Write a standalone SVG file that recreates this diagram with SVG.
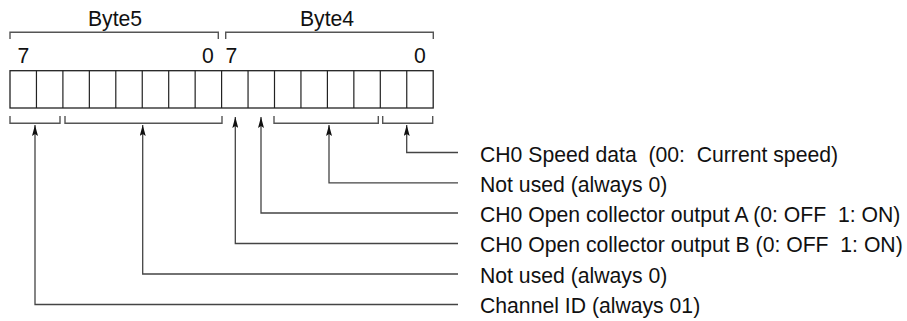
<svg xmlns="http://www.w3.org/2000/svg" width="907" height="321" viewBox="0 0 907 321">
<style>
text{font-family:"Liberation Sans",Arial,sans-serif;font-size:21.2px;fill:#111;white-space:pre}
.br{fill:none;stroke:#555;stroke-width:1.4}
.cell{fill:#fff;stroke:#222;stroke-width:1.3}
.div{stroke:#222;stroke-width:1.2}
.con{fill:none;stroke:#444;stroke-width:1.3}
</style>
<defs>
<marker id="ah" markerWidth="11" markerHeight="6" refX="11" refY="3" orient="auto" markerUnits="userSpaceOnUse" viewBox="0 0 11 6">
<path d="M0,0 L11,3 L0,6 L2,3 Z" fill="#111"/>
</marker>
</defs>
<g id="byte5-label">
<path class="br" d="M10,39 V32.3 H218.3 V39"/>
<text x="115" y="26" text-anchor="middle">Byte5</text>
</g>
<g id="byte4-label">
<path class="br" d="M225.7,39 V32.3 H433.3 V39"/>
<text x="327" y="26" text-anchor="middle">Byte4</text>
</g>
<g id="bit-numbers">
<text x="17.5" y="62.5">7</text>
<text x="202" y="62.5">0</text>
<text x="225.5" y="62.5">7</text>
<text x="414" y="62.5">0</text>
</g>
<g id="register">
<rect class="cell" x="10" y="70.7" width="423.2" height="37.3"/>
<path class="div" d="M36.45,70.7V108 M62.9,70.7V108 M89.35,70.7V108 M115.8,70.7V108 M142.25,70.7V108 M168.7,70.7V108 M195.15,70.7V108 M221.6,70.7V108 M248.05,70.7V108 M274.5,70.7V108 M300.95,70.7V108 M327.4,70.7V108 M353.85,70.7V108 M380.3,70.7V108 M406.75,70.7V108"/>
</g>
<g id="field-braces">
<path class="br" d="M10,116 V123.3 H60 V116"/>
<path class="br" d="M65,116 V123.3 H222 V116"/>
<path class="br" d="M274,116 V123.3 H378.3 V116"/>
<path class="br" d="M382.7,116 V123.3 H432.7 V116"/>
</g>
<g id="connectors">
<path class="con" d="M458,152.5 H406.7 V125" marker-end="url(#ah)"/>
<path class="con" d="M458,182.8 H329 V125" marker-end="url(#ah)"/>
<path class="con" d="M458,213 H261 V117" marker-end="url(#ah)"/>
<path class="con" d="M458,243.5 H235.3 V117" marker-end="url(#ah)"/>
<path class="con" d="M458,274 H142.7 V125" marker-end="url(#ah)"/>
<path class="con" d="M458,304.5 H35 V125" marker-end="url(#ah)"/>
</g>
<g id="label-speed"><text x="480" y="161.5">CH0 Speed data  (00:  Current speed)</text></g>
<g id="label-notused1"><text x="480" y="191.8">Not used (always 0)</text></g>
<g id="label-outA"><text x="480" y="222">CH0 Open collector output A (0: OFF  1: ON)</text></g>
<g id="label-outB"><text x="480" y="252.3">CH0 Open collector output B (0: OFF  1: ON)</text></g>
<g id="label-notused2"><text x="480" y="282.6">Not used (always 0)</text></g>
<g id="label-channel"><text x="480" y="313">Channel ID (always 01)</text></g>
</svg>
